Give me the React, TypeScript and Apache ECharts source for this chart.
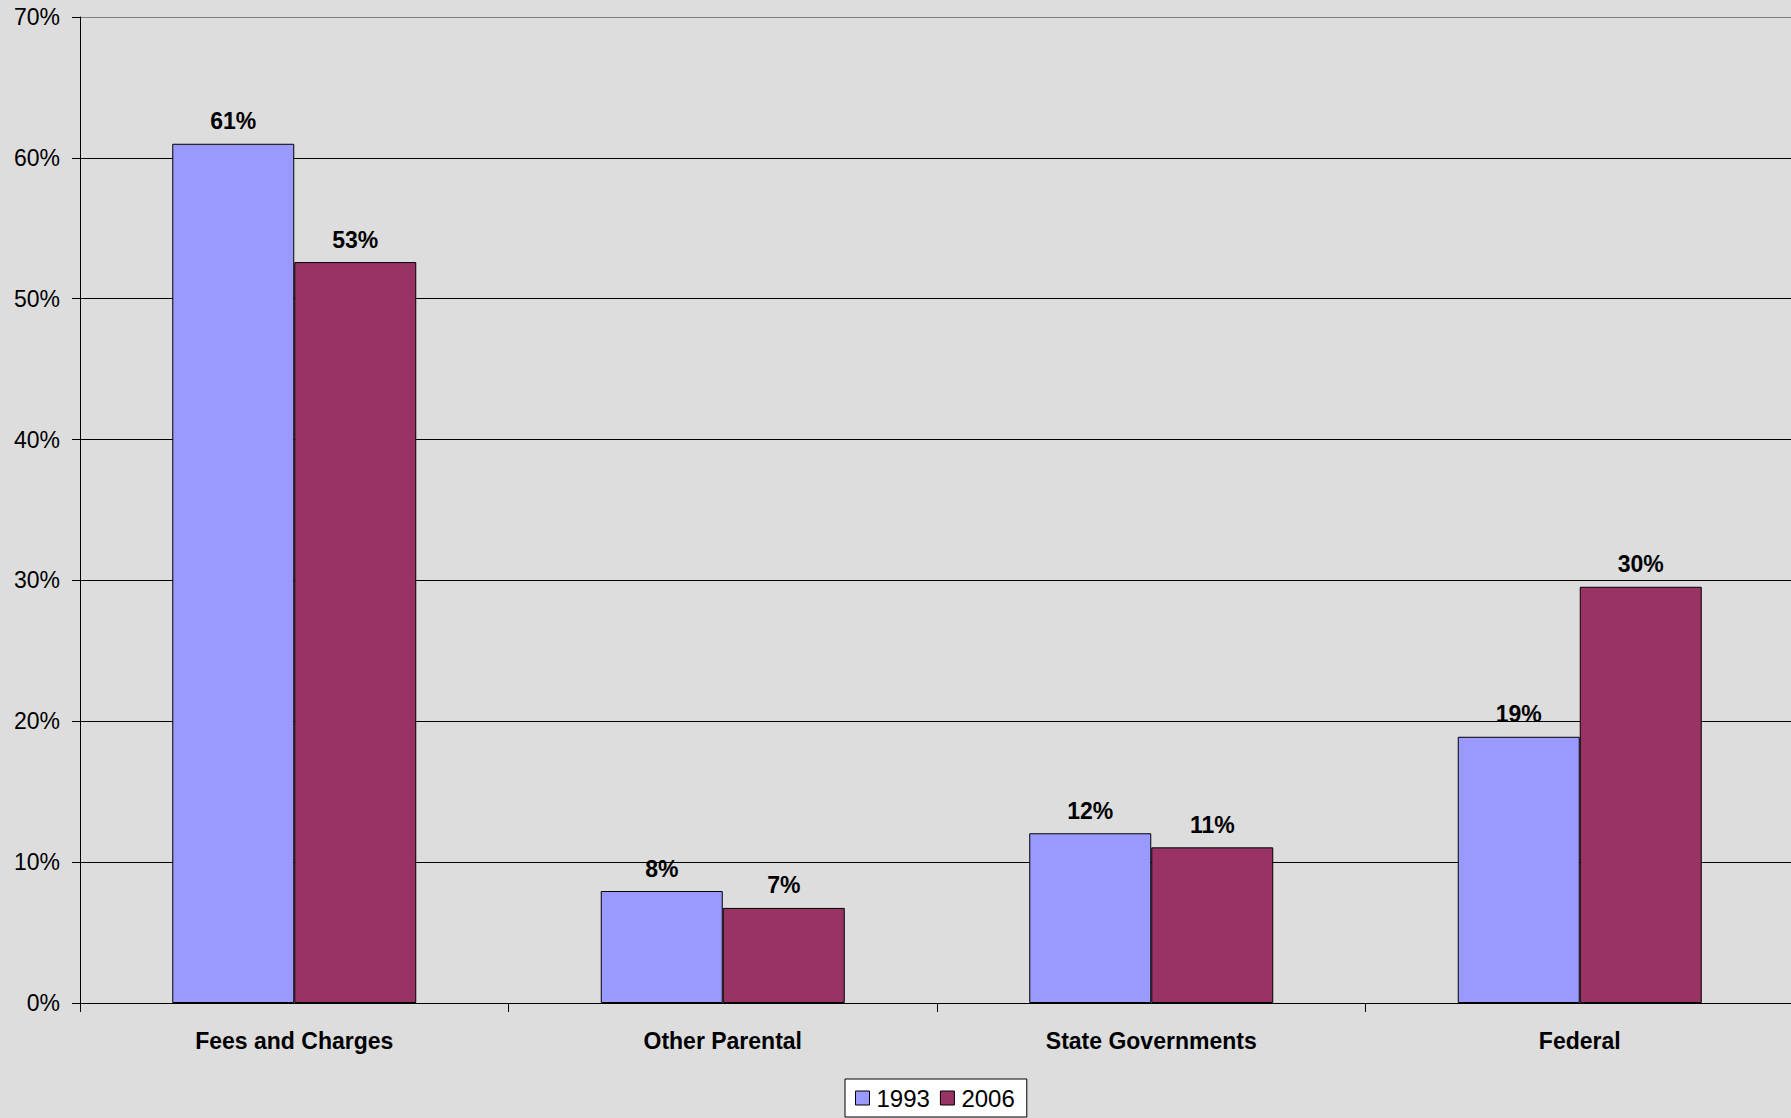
import React, { useEffect, useRef } from "react";
import * as echarts from "echarts";

const categories = ["Fees and Charges", "Other Parental", "State Governments", "Federal"];
const series1993 = [61.0, 7.95, 12.05, 18.9];
const series2006 = [52.6, 6.75, 11.05, 29.55];
const seriesNames = ["1993", "2006"];
const yTicks = [0, 10, 20, 30, 40, 50, 60, 70];

const FONT = "'Liberation Sans', Arial, sans-serif";

export default function App() {
  const ref = useRef<HTMLDivElement>(null);
  useEffect(() => {
    if (!ref.current) return;
    const chart = echarts.init(ref.current, undefined, { renderer: "svg" });
    const labelCfg = {
      show: true,
      position: "top",
      distance: 11,
      fontFamily: FONT,
      fontWeight: "bold",
      fontSize: 23,
      color: "#000",
      formatter: (p: any) => Math.round(p.value) + "%",
    };
    chart.setOption({
      animation: false,
      backgroundColor: "#DDDDDD",
      textStyle: { fontFamily: FONT },
      grid: { left: 80, top: 17, right: 0, bottom: 115, containLabel: false },
      legend: {
        data: seriesNames,
        bottom: 1,
        left: 845,
        backgroundColor: "#FFFFFF",
        borderColor: "#000",
        borderWidth: 1,
        padding: [7, 12, 7, 10],
        itemWidth: 14,
        itemHeight: 14,
        itemGap: 10,
        icon: "rect",
        itemStyle: { borderColor: "#000", borderWidth: 1 },
        textStyle: { fontFamily: FONT, fontSize: 24, color: "#000", padding: [0, 0, 0, 2] },
      },
      xAxis: {
        type: "category",
        data: categories,
        axisLine: { lineStyle: { color: "#000", width: 1 } },
        axisTick: { show: true, alignWithLabel: false, length: 9, lineStyle: { color: "#000" } },
        axisLabel: { fontFamily: FONT, fontWeight: "bold", fontSize: 23, color: "#000", margin: 26 },
      },
      yAxis: {
        type: "value",
        min: yTicks[0],
        max: yTicks[yTicks.length - 1],
        interval: 10,
        axisLine: { show: true, lineStyle: { color: "#000", width: 1 } },
        axisTick: { show: true, length: 8, lineStyle: { color: "#000" } },
        axisLabel: { fontFamily: FONT, fontSize: 23, color: "#000", margin: 20, formatter: "{value}%" },
        splitLine: {
          show: true,
          lineStyle: {
            color: ["#000", "#000", "#000", "#000", "#000", "#000", "#000", "#808080"],
            width: 1,
          },
        },
      },
      series: [
        {
          name: seriesNames[0],
          type: "bar",
          data: series1993,
          barWidth: 122,
          barGap: "0%",
          itemStyle: { color: "#9999FF", borderColor: "#000", borderWidth: 1 },
          label: labelCfg,
        },
        {
          name: seriesNames[1],
          type: "bar",
          data: series2006,
          barWidth: 122,
          barGap: "0%",
          itemStyle: { color: "#993366", borderColor: "#000", borderWidth: 1 },
          label: labelCfg,
        },
      ],
    });
    return () => chart.dispose();
  }, []);
  return (
    <div
      style={{
        position: "fixed",
        left: 0,
        top: 0,
        width: 1791,
        height: 1118,
        overflow: "hidden",
        background: "#DDDDDD",
      }}
    >
      <div ref={ref} style={{ width: 1794, height: 1118 }} />
    </div>
  );
}
